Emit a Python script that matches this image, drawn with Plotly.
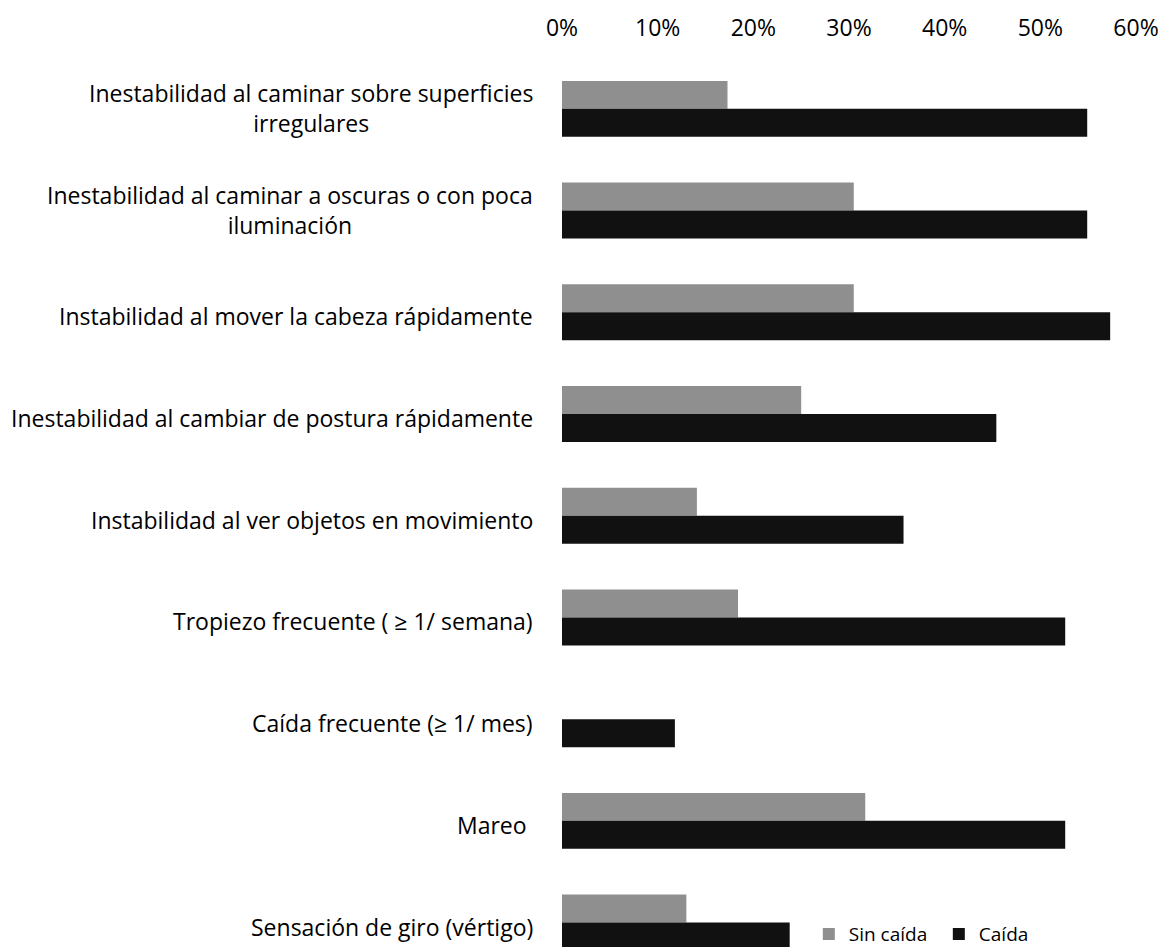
import plotly.graph_objects as go

categories = [
    "Inestabilidad al caminar sobre superficies<br>irregulares",
    "Inestabilidad al caminar a oscuras o con poca<br>iluminación",
    "Instabilidad al mover la cabeza rápidamente",
    "Inestabilidad al cambiar de postura rápidamente",
    "Instabilidad al ver objetos en movimiento",
    "Tropiezo frecuente ( ≥ 1/ semana)",
    "Caída frecuente (≥ 1/ mes)",
    "Mareo ",
    "Sensación de giro (vértigo)",
]
sin_caida = [17.3, 30.5, 30.5, 25.0, 14.1, 18.4, 0.0, 31.7, 13.0]
caida = [54.9, 54.9, 57.3, 45.4, 35.7, 52.6, 11.8, 52.6, 23.8]
x_ticks = [0, 10, 20, 30, 40, 50, 60]
x_tick_labels = ["0%", "10%", "20%", "30%", "40%", "50%", "60%"]

FONT = "Open Sans"
idx = list(range(len(categories)))

fig = go.Figure()
fig.add_trace(go.Bar(y=idx, x=sin_caida, orientation="h", name="Sin caída",
                     marker=dict(color="#8f8f8f", line=dict(width=0))))
fig.add_trace(go.Bar(y=idx, x=caida, orientation="h", name="Caída",
                     marker=dict(color="#111111", line=dict(width=0))))

for i, c in enumerate(categories):
    two_line = "<br>" in c
    fig.add_annotation(x=0, xref="paper", y=i, yref="y", text=c, showarrow=False,
                       xanchor="right", yanchor="middle", align="center", xshift=-27,
                       yshift=1 if two_line else -4,
                       font=dict(family=FONT, size=23, color="#000000"))

fig.update_layout(
    width=1167, height=947,
    margin=dict(l=554, r=39, t=50, b=8, autoexpand=False),
    paper_bgcolor="white", plot_bgcolor="white",
    barmode="group", bargap=0.45, bargroupgap=0,
    font=dict(family=FONT, size=23, color="#000000"),
    showlegend=True,
    legend=dict(orientation="h", x=0.430, y=-0.007, xanchor="left", yanchor="bottom",
                font=dict(family=FONT, size=19), bgcolor="rgba(0,0,0,0)",
                itemwidth=30, traceorder="normal", entrywidth=85, entrywidthmode="pixels"),
    xaxis=dict(side="top", range=[0, 60], tickvals=x_ticks, ticktext=x_tick_labels,
               showgrid=False, zeroline=False, showline=False, ticks="",
               ticklabelstandoff=16, automargin=False,
               tickfont=dict(family=FONT, size=23), fixedrange=True),
    yaxis=dict(range=[8.24, -0.5], showticklabels=False, showgrid=False,
               zeroline=False, showline=False, ticks="", automargin=False),
)

fig.write_html("out.html")
